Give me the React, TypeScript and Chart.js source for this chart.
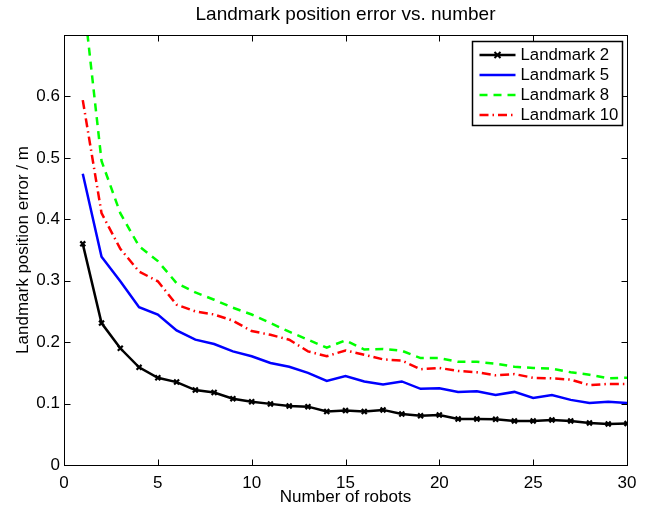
import React, { useEffect, useRef } from "react";
import { Chart, registerables } from "chart.js";

Chart.register(...registerables);

const robots = [1, 2, 3, 4, 5, 6, 7, 8, 9, 10, 11, 12, 13, 14, 15, 16, 17, 18, 19, 20, 21, 22, 23, 24, 25, 26, 27, 28, 29, 30];

const landmark2 = [0.360, 0.231, 0.190, 0.159, 0.142, 0.135, 0.122, 0.118, 0.108, 0.103, 0.0995, 0.096, 0.095, 0.087, 0.0886, 0.087, 0.0897, 0.083, 0.080, 0.0815, 0.075, 0.075, 0.0745, 0.0718, 0.0718, 0.0734, 0.0718, 0.0685, 0.0669, 0.0674];
const landmark5 = [0.474, 0.339, 0.299, 0.257, 0.245, 0.219, 0.204, 0.197, 0.185, 0.177, 0.166, 0.160, 0.150, 0.137, 0.145, 0.136, 0.131, 0.136, 0.124, 0.125, 0.119, 0.120, 0.114, 0.119, 0.109, 0.114, 0.106, 0.101, 0.103, 0.101];
const landmark8 = [0.77, 0.495, 0.41, 0.356, 0.332, 0.296, 0.281, 0.269, 0.256, 0.245, 0.231, 0.217, 0.204, 0.191, 0.203, 0.188, 0.189, 0.186, 0.174, 0.174, 0.168, 0.168, 0.165, 0.160, 0.158, 0.157, 0.151, 0.147, 0.141, 0.142];
const landmark10 = [0.594, 0.41, 0.352, 0.315, 0.299, 0.261, 0.250, 0.245, 0.235, 0.218, 0.212, 0.204, 0.185, 0.177, 0.1865, 0.1795, 0.172, 0.170, 0.156, 0.158, 0.153, 0.151, 0.146, 0.148, 0.142, 0.141, 0.139, 0.130, 0.132, 0.132];

const seriesLabels = ["Landmark 2", "Landmark 5", "Landmark 8", "Landmark 10"];
const xTicks = [0, 5, 10, 15, 20, 25, 30];
const yTicks = [0, 0.1, 0.2, 0.3, 0.4, 0.5, 0.6];
const chartTitle = "Landmark position error vs. number";

const FONT = "'Liberation Sans', Arial, Helvetica, sans-serif";

const pts = (vals: number[]) => robots.map((r, i) => ({ x: r, y: vals[i] }));

const framePlugin = {
  id: "frame",
  afterDatasetsDraw(chart: any) {
    const { ctx, chartArea: a, scales } = chart;
    const xs = scales.x;
    const ys = scales.y;
    const L = Math.round(a.left) + 0.5;
    const R = Math.round(a.right) + 0.5;
    const T = Math.round(a.top) + 0.5;
    const B = Math.round(a.bottom) + 0.5;
    ctx.save();
    ctx.strokeStyle = "#000";
    ctx.lineWidth = 1;
    ctx.setLineDash([]);
    ctx.strokeRect(L, T, R - L, B - T);
    ctx.beginPath();
    const tl = 6;
    xTicks.forEach((v) => {
      const px = Math.round(xs.getPixelForValue(v)) + 0.5;
      ctx.moveTo(px, B);
      ctx.lineTo(px, B - tl);
      ctx.moveTo(px, T);
      ctx.lineTo(px, T + tl);
    });
    yTicks.forEach((v) => {
      const py = Math.round(ys.getPixelForValue(v)) + 0.5;
      ctx.moveTo(L, py);
      ctx.lineTo(L + tl, py);
      ctx.moveTo(R, py);
      ctx.lineTo(R - tl, py);
    });
    ctx.stroke();
    // title centred over the plot area
    ctx.fillStyle = "#000";
    ctx.font = `19px ${FONT}`;
    ctx.textAlign = "center";
    ctx.textBaseline = "middle";
    ctx.fillText(chartTitle, (a.left + a.right) / 2, 15);
    ctx.restore();
  },
};

const legendPlugin = {
  id: "boxLegend",
  afterDraw(chart: any) {
    const { ctx, chartArea: a } = chart;
    const bx = Math.round(a.right) - 155 + 0.5;
    const by = Math.round(a.top) + 6 + 0.5;
    const bw = 150;
    const bh = 84;
    ctx.save();
    ctx.fillStyle = "#fff";
    ctx.fillRect(bx, by, bw, bh);
    ctx.strokeStyle = "#000";
    ctx.lineWidth = 1.5;
    ctx.setLineDash([]);
    ctx.strokeRect(bx, by, bw, bh);
    ctx.font = `16.8px ${FONT}`;
    ctx.textBaseline = "middle";
    ctx.textAlign = "left";
    chart.data.datasets.forEach((ds: any, i: number) => {
      const yy = by + 13.5 + i * 20;
      const x0 = bx + 7;
      const x1 = bx + 43;
      ctx.strokeStyle = ds.borderColor;
      ctx.lineWidth = ds.borderWidth;
      ctx.setLineDash(ds.borderDash || []);
      ctx.beginPath();
      ctx.moveTo(x0, yy);
      ctx.lineTo(x1, yy);
      ctx.stroke();
      ctx.setLineDash([]);
      if (ds.pointRadius > 0) {
        const cx = (x0 + x1) / 2;
        const r = 3;
        ctx.lineWidth = 2;
        ctx.beginPath();
        ctx.moveTo(cx - r, yy - r);
        ctx.lineTo(cx + r, yy + r);
        ctx.moveTo(cx - r, yy + r);
        ctx.lineTo(cx + r, yy - r);
        ctx.stroke();
      }
      ctx.fillStyle = "#000";
      ctx.fillText(ds.label, bx + 48, yy + 0.5);
    });
    ctx.restore();
  },
};

export default function App() {
  const ref = useRef<HTMLCanvasElement>(null);
  useEffect(() => {
    document.body.style.margin = "0";
    const chart = new Chart(ref.current as HTMLCanvasElement, {
      type: "line",
      data: {
        datasets: [
          {
            label: seriesLabels[0],
            data: pts(landmark2),
            borderColor: "#000000",
            backgroundColor: "#000000",
            borderWidth: 2.5,
            pointStyle: "crossRot",
            pointRadius: 3.5,
            pointBorderWidth: 2.2,
            pointBorderColor: "#000000",
            tension: 0,
          },
          {
            label: seriesLabels[1],
            data: pts(landmark5),
            borderColor: "#0000ff",
            borderWidth: 2.5,
            pointRadius: 0,
            tension: 0,
          },
          {
            label: seriesLabels[2],
            data: pts(landmark8),
            borderColor: "#00ff00",
            borderWidth: 2.5,
            borderDash: [8, 6],
            pointRadius: 0,
            tension: 0,
          },
          {
            label: seriesLabels[3],
            data: pts(landmark10),
            borderColor: "#ff0000",
            borderWidth: 2.5,
            borderDash: [9, 4, 1.5, 4],
            pointRadius: 0,
            tension: 0,
          },
        ] as any,
      },
      options: {
        responsive: false,
        animation: false,
        layout: { padding: { left: 0, right: 18, top: 35, bottom: 0 } },
        plugins: {
          legend: { display: false },
          tooltip: { enabled: false },
          title: { display: false },
        },
        scales: {
          x: {
            type: "linear",
            min: 0,
            max: 30,
            afterFit: (s: any) => {
              s.height = 43;
            },
            afterBuildTicks: (s: any) => {
              s.ticks = xTicks.map((v) => ({ value: v }));
            },
            grid: { display: false, drawTicks: false },
            border: { display: false },
            ticks: {
              color: "#000",
              font: { family: FONT, size: 17 },
              padding: 8,
              maxRotation: 0,
              callback: (v: any) => String(v),
            },
            title: {
              display: true,
              text: "Number of robots",
              color: "#000",
              font: { family: FONT, size: 17, lineHeight: 1.2 },
              padding: { top: 0, bottom: 0 },
            },
          },
          y: {
            type: "linear",
            min: 0,
            max: 0.7,
            afterFit: (s: any) => {
              s.width = 64;
            },
            afterBuildTicks: (s: any) => {
              s.ticks = yTicks.map((v) => ({ value: v }));
            },
            grid: { display: false, drawTicks: false },
            border: { display: false },
            ticks: {
              color: "#000",
              font: { family: FONT, size: 17 },
              padding: 4,
              callback: (v: any) => String(Math.round(Number(v) * 10) / 10),
            },
            title: {
              display: true,
              text: "Landmark position error / m",
              color: "#000",
              font: { family: FONT, size: 17, lineHeight: 1.2 },
              padding: { top: 13, bottom: 0 },
            },
          },
        },
      },
      plugins: [framePlugin, legendPlugin],
    } as any);
    return () => chart.destroy();
  }, []);
  return (
    <div style={{ position: "fixed", left: 0, top: 0, width: 645, height: 508, background: "#fff" }}>
      <canvas ref={ref} width={645} height={508} />
    </div>
  );
}
